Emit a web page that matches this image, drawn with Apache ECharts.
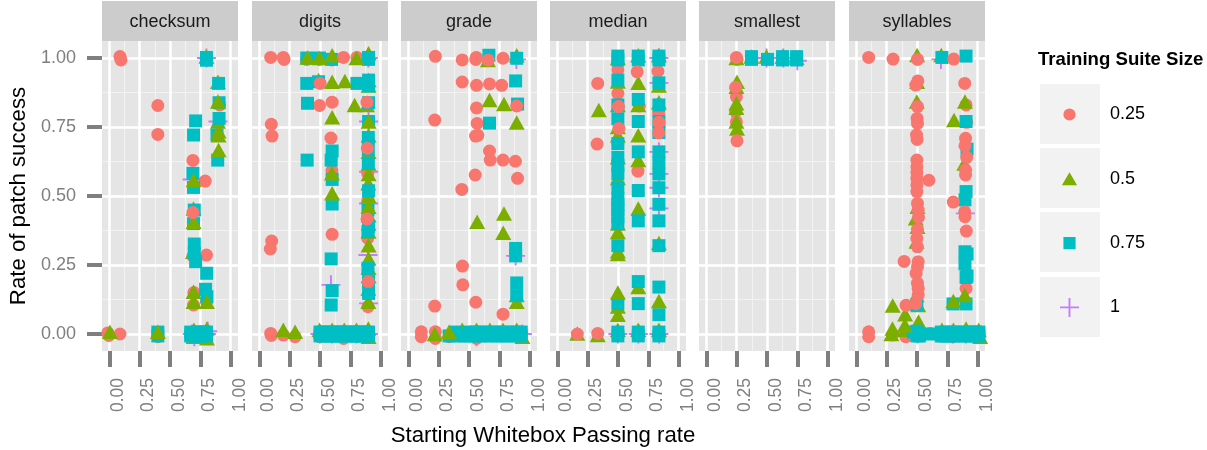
<!DOCTYPE html>
<html><head><meta charset="utf-8">
<style>html,body{margin:0;padding:0;background:#fff}#c{width:1207px;height:450px}</style>
<script src="https://cdn.jsdelivr.net/npm/echarts@6/dist/echarts.min.js"></script>
</head><body><div id="c"></div>
<script>
const facetNames = ['checksum','digits','grade','median','smallest','syllables'];
const sizeLabels = ['0.25','0.5','0.75','1'];
const majorTicks = [0,0.25,0.5,0.75,1];
const minorTicks = [0.125,0.375,0.625,0.875];

// checksum
const checksum25 = [[.088,1.005],[.096,.993],[-.012,.004],[-.004,-.005],[.088,0],[.40,.828],[.40,.723],[.79,.554],[.689,.283],[.80,.286],[.697,.15],[.694,.105],[.80,.117],[.40,-.01],[.909,.83]];
const checksum50 = [[.005,.008],[.80,1.005],[.895,.914],[.895,.77],[.694,.455],[.689,.298],[.694,.153],[.697,.015],[.804,.02],[.804,-.015],[.694,-.01]];
const checksum75 = [[.80,1.002],[.80,.992],[.711,.772],[.694,.721],[.90,.908],[.904,.838],[.904,.781],[.887,.721],[.893,.63],[.689,.582],[.694,.531],[.70,.449],[.694,.40],[.70,.326],[.70,.292],[.711,.262],[.802,.22],[.793,.162],[.804,.135],[.40,.007],[.40,-.007],[.67,.007],[.69,-.007],[.72,.007],[.75,-.007],[.78,.007],[.80,-.007],[.67,-.007],[.72,-.007],[.75,.007],[.80,.007]];
const checksum100 = [[.80,1],[.895,.77],[.683,.56],[.683,0],[.80,0],[.70,-.01],[.81,.01]];
const checksum50Top = [[.895,.842],[.90,.72],[.90,.735],[.90,.667],[.694,.558],[.694,.407],[.694,.117],[.804,.117],[.40,.008]];
const checksum25Top = [[.689,.44],[.689,.629]];
// digits
const digits25 = [[.094,1.002],[.198,1.002],[.204,.995],[.39,.995],[.496,.995],[.598,.993],[.804,1.002],[.496,.828],[.60,.84],[.099,.76],[.105,.717],[.59,.71],[.598,.592],[.893,.582],[.895,.485],[.60,.361],[.893,.347],[.102,.337],[.091,.308],[.895,.099],[.094,.002],[.099,-.005],[.198,-.004],[.496,-.01],[.694,-.016],[.295,-.01]];
const digits50 = [[.90,1.017],[.488,.92],[.90,.92],[.90,.90],[.785,.83],[.887,.83],[.90,.72],[.90,.66],[.90,.618],[.90,.58],[.898,.546],[.90,.50],[.90,.43],[.90,.40],[.90,.371],[.90,.322],[.90,.274],[.90,.24],[.90,.21],[.898,.165],[.898,.117],[.198,.015],[.496,.015],[.60,.015],[.70,.015],[.80,.015],[.898,.02],[.90,-.01]];
const digits75 = [[.391,1],[.496,1],[.595,.995],[.90,.995],[.90,1.002],[.391,.908],[.488,.914],[.804,.908],[.90,.92],[.90,.899],[.397,.836],[.90,.838],[.90,.77],[.898,.712],[.898,.667],[.898,.618],[.394,.63],[.60,.663],[.592,.63],[.60,.56],[.60,.471],[.90,.519],[.895,.449],[.90,.389],[.895,.371],[.592,.272],[.895,.238],[.60,.157],[.592,.105],[.90,.19],[.90,.147],[.50,.007],[.53,-.007],[.56,.007],[.60,-.007],[.63,.007],[.66,-.007],[.70,.007],[.73,-.007],[.77,.007],[.80,-.007],[.83,.007],[.87,-.007],[.90,.007],[.50,-.007],[.56,-.007],[.63,-.007],[.70,-.007],[.77,-.007],[.83,-.007],[.90,-.007],[.53,.007],[.60,.007],[.66,.007],[.73,.007],[.80,.007],[.87,.007]];
const digits100 = [[.898,1],[.90,.77],[.59,.178],[.90,.588],[.90,.473],[.895,.286],[.90,.111],[.90,0],[.50,0],[.60,0],[.80,0]];
const digits50Top = [[.397,1.002],[.496,1],[.60,1.01],[.80,1],[.60,.914],[.705,.917],[.60,.785],[.90,.77],[.60,.51],[.598,.582],[.90,.461],[.295,.008]];
const digits25Top = [[.887,.84],[.89,.673],[.887,.417],[.898,.19],[.501,.908],[.694,1.002]];
// grade
const grade25 = [[.223,1.006],[.444,.993],[.556,.995],[.56,1.002],[.78,.999],[.444,.913],[.562,.901],[.669,.906],[.769,.901],[.562,.819],[.218,.775],[.567,.763],[.554,.717],[.573,.72],[.669,.663],[.675,.63],[.78,.63],[.882,.626],[.551,.576],[.90,.564],[.441,.524],[.446,.246],[.449,.178],[.218,.101],[.556,.115],[.78,.072],[.107,.008],[.107,-.01],[.223,.008],[.223,-.016],[.444,.002],[.562,-.016],[.336,-.01]];
const grade50 = [[.669,.848],[.788,.833],[.656,.993],[.567,.407],[.788,.437],[.782,.367],[.893,1.01],[.893,.117],[.893,.141],[.444,.015],[.562,.015],[.672,.015],[.78,.015],[.893,.015],[.94,-.01]];
const grade75 = [[.664,1.01],[.893,.999],[.884,.917],[.90,.833],[.669,.764],[.884,.31],[.884,.283],[.893,.185],[.893,.139],[.336,-.007],[.39,.007],[.457,-.007],[.50,.007],[.554,-.007],[.60,.007],[.664,-.007],[.72,.007],[.774,-.007],[.82,.007],[.884,-.007],[.93,.007],[.39,-.007],[.50,-.007],[.60,-.007],[.72,-.007],[.82,-.007],[.93,-.007],[.554,.007],[.664,.007],[.774,.007],[.884,.007]];
const grade100 = [[.89,.995],[.884,.283],[.562,-.01],[.89,0],[.94,0]];
const grade50Top = [[.218,0],[.336,.008],[.893,.766]];
const grade25Top = [[.893,.826],[.658,.993]];
// median
const median25 = [[.328,.688],[.499,.957],[.829,.952],[.499,.872],[.499,.691],[.664,.59],[.675,.826],[.835,.80]];
const median50 = [[.342,.812],[.165,.002],[.333,-.004],[.499,1],[.499,.915],[.499,.83],[.499,.75],[.499,.72],[.499,.64],[.499,.565],[.499,.40],[.499,.37],[.499,.30],[.499,.29],[.499,.10],[.499,.07],[.499,.015],[.667,1.01],[.667,.83],[.667,.63],[.667,.455],[.667,.17],[.667,.015],[.837,1.01],[.837,.90],[.837,.84],[.837,.33],[.837,.015]];
const median75 = [[.499,1.007],[.499,.993],[.499,.92],[.499,.83],[.499,.78],[.499,.69],[.499,.64],[.499,.61],[.499,.58],[.499,.53],[.499,.49],[.499,.47],[.499,.45],[.499,.425],[.499,.40],[.499,.32],[.499,.11],[.499,.007],[.499,-.007],[.667,1.007],[.667,.993],[.667,.85],[.667,.77],[.667,.66],[.667,.52],[.667,.41],[.667,.19],[.667,.11],[.667,.007],[.667,-.007],[.837,1.007],[.837,.993],[.837,.91],[.837,.83],[.837,.77],[.837,.73],[.837,.66],[.837,.62],[.837,.58],[.837,.53],[.837,.47],[.837,.41],[.837,.32],[.837,.17],[.837,.07],[.837,.007],[.837,-.007]];
const median100 = [[.837,1],[.837,.91],[.837,.66],[.837,.58],[.837,.53],[.837,.455],[.837,0],[.499,0],[.667,0]];
const median50Top = [[.499,.15],[.667,.91],[.837,.12],[.667,.72]];
const median25Top = [[.333,.908],[.504,.824],[.507,.745],[.837,.767],[.835,.729],[.333,.002],[.165,0],[.658,.95]];
// smallest
const smallest25 = [[.253,.995],[.248,.86],[.242,.806],[.248,.769]];
const smallest50 = [[.248,1],[.253,.914],[.248,.896],[.248,.82],[.372,1.005],[.496,1.005],[.628,1.005],[.744,1]];
const smallest75 = [[.372,1.005],[.372,.995],[.504,.995],[.628,1.005],[.628,.993],[.744,1.005],[.744,.993]];
const smallest100 = [[.496,1],[.634,1],[.75,.99]];
const smallest50Top = [[.248,.836],[.248,.77],[.253,.745]];
const smallest25Top = [[.248,1.002],[.242,.894],[.253,.70]];
// syllables
const syllables25 = [[.102,.008],[.102,-.01],[.298,-.004],[.408,-.01],[.609,.002],[.796,-.01],[.904,.165],[.904,.83],[.909,.767]];
const syllables50 = [[.501,1.011],[.70,1.011],[.501,.914],[.499,.842],[.805,.775],[.89,.618],[.504,.461],[.49,.419],[.504,.389],[.496,.335],[.496,.141],[.51,.105],[.30,.103],[.402,.072],[.512,.045],[.289,0],[.40,.015],[.705,.015],[.80,.015],[.904,.02],[1.008,.015],[1.02,-.01]];
const syllables75 = [[.705,1.002],[.904,1.007],[.904,.77],[.912,.67],[.904,.516],[.895,.486],[.895,.298],[.912,.29],[.895,.254],[.904,.205],[.912,.21],[.499,.105],[.796,.109],[.904,.109],[.47,.007],[.50,-.007],[.50,.01],[.52,-.007],[.60,0],[.70,.007],[.72,-.007],[.75,.007],[.80,-.007],[.85,.007],[.90,-.007],[.94,.007],[.98,-.007],[1.01,.007],[.70,-.007],[.75,-.007],[.80,.007],[.85,-.007],[.90,.007],[.94,-.007],[.98,.007],[1.01,-.007]];
const syllables100 = [[.697,.995],[.898,.437],[.504,0],[.793,0],[.904,0]];
const syllables50Top = [[.895,.842],[.298,.02],[.40,.033],[.893,.141],[.799,.12]];
const syllables25Top = [[.102,1.002],[.303,.996],[.504,.995],[.802,.996],[.507,.917],[.49,.902],[.893,.908],[.504,.824],[.501,.781],[.504,.763],[.496,.721],[.501,.705],[.90,.709],[.895,.682],[.909,.64],[.499,.63],[.499,.606],[.499,.585],[.499,.564],[.499,.54],[.499,.516],[.598,.557],[.90,.594],[.90,.576],[.504,.473],[.51,.449],[.512,.423],[.504,.379],[.499,.347],[.504,.316],[.51,.262],[.504,.244],[.493,.22],[.504,.184],[.51,.165],[.51,.141],[.394,.263],[.799,.478],[.893,.443],[.895,.425],[.906,.373],[.41,.104],[.49,.11]];

const pinkByFacet = [checksum25,digits25,grade25,median25,smallest25,syllables25];
const greenByFacet = [checksum50,digits50,grade50,median50,smallest50,syllables50];
const tealByFacet = [checksum75,digits75,grade75,median75,smallest75,syllables75];
const plusByFacet = [checksum100,digits100,grade100,median100,smallest100,syllables100];
const greenTopByFacet = [checksum50Top,digits50Top,grade50Top,median50Top,smallest50Top,syllables50Top];
const pinkTopByFacet = [checksum25Top,digits25Top,grade25Top,median25Top,smallest25Top,syllables25Top];

const panelLefts = [102,252,401,550,699,849];
const panelW = 136, panelTop = 41, panelH = 310;
const colors = {pink:'#F8766D',green:'#7CAE00',teal:'#00BFC4',plus:'#C77CFF'};
const plusPath = 'path://M45 0H55V45H100V55H55V100H45V55H0V45H45Z';
const gray = '#7F7F7F';
const xMin=-0.06,xMax=1.06,yMin=-0.0616,yMax=1.0616;
const box='M0 0L0 0M100 100L100 100';
const legendIcons=[
  'path://'+box+'M50 18A32 32 0 1 1 50 82A32 32 0 1 1 50 18Z',
  'path://'+box+'M50 16L90 84L10 84Z',
  'path://'+box+'M18 18H82V82H18Z',
  plusPath
];

const grid=[],xAxis=[],yAxis=[],series=[],graphic=[];
facetNames.forEach((nm,i)=>{
  grid.push({left:panelLefts[i],top:panelTop,width:panelW,height:panelH,show:true,backgroundColor:'#E5E5E5',borderWidth:0,outerBoundsMode:'none'});
  xAxis.push({type:'value',gridIndex:i,min:xMin,max:xMax,position:'bottom',
    axisLine:{show:false,onZero:false},
    axisTick:{show:true,length:16,lineStyle:{color:gray,width:4},customValues:majorTicks},
    axisLabel:{show:true,customValues:majorTicks,rotate:90,color:gray,fontSize:17.5,fontFamily:'Liberation Sans',margin:27,align:'right',verticalAlign:'top',hideOverlap:false,formatter:v=>v.toFixed(2)},
    splitLine:{show:true,lineStyle:{color:'#fff',width:2.5}},z:3});
  yAxis.push({type:'value',gridIndex:i,min:yMin,max:yMax,position:'left',
    axisLine:{show:false,onZero:false},
    axisTick:{show:i===0,length:15,lineStyle:{color:gray,width:4},customValues:majorTicks},
    axisLabel:{show:i===0,customValues:majorTicks,color:gray,fontSize:18,fontFamily:'Liberation Sans',margin:26,hideOverlap:false,formatter:v=>v.toFixed(2)},
    splitLine:{show:true,lineStyle:{color:'#fff',width:2.5}},
    name:i===0?'Rate of patch success':'',nameLocation:'middle',nameGap:72,nameRotate:90,nameMoveOverlap:false,
    nameTextStyle:{color:'#000',fontSize:22.2,fontFamily:'Liberation Sans'},z:3});
});
facetNames.forEach((nm,i)=>{
  xAxis.push({type:'value',gridIndex:i,min:xMin,max:xMax,position:'top',
    axisLine:{show:false,onZero:false},
    axisTick:{show:false,customValues:minorTicks},axisLabel:{show:false,customValues:minorTicks},
    splitLine:{show:true,lineStyle:{color:'#F2F2F2',width:1.2}},z:2});
  yAxis.push({type:'value',gridIndex:i,min:yMin,max:yMax,position:'right',
    axisLine:{show:false,onZero:false},
    axisTick:{show:false,customValues:minorTicks},axisLabel:{show:false,customValues:minorTicks},
    splitLine:{show:true,lineStyle:{color:'#F2F2F2',width:1.2}},z:2});
  const layers=[
    [sizeLabels[3],plusByFacet[i],plusPath,19,colors.plus,10],
    [sizeLabels[0],pinkByFacet[i],'circle',13,colors.pink,11],
    [sizeLabels[1],greenByFacet[i],'triangle',[16,14.5],colors.green,12],
    [sizeLabels[2],tealByFacet[i],'rect',13,colors.teal,13],
    [sizeLabels[1],greenTopByFacet[i],'triangle',[16,14.5],colors.green,14],
    [sizeLabels[0],pinkTopByFacet[i],'circle',13,colors.pink,15]
  ];
  layers.forEach(l=>series.push({type:'scatter',name:l[0],data:l[1],symbol:l[2],symbolSize:l[3],
    itemStyle:{color:l[4],opacity:1},xAxisIndex:i,yAxisIndex:i,z:l[5],silent:true,animation:false,clip:true}));
  graphic.push({type:'rect',shape:{x:panelLefts[i],y:1,width:panelW,height:40},style:{fill:'#CCCCCC'},silent:true});
  graphic.push({type:'text',x:panelLefts[i]+panelW/2,y:22,style:{text:nm,fill:'#1A1A1A',font:'18px "Liberation Sans"',textAlign:'center',textVerticalAlign:'middle'},silent:true});
});
[84,148,212,277].forEach(y=>graphic.push({type:'rect',z:-1,shape:{x:1040,y:y,width:60,height:60},style:{fill:'#F2F2F2'},silent:true}));
graphic.push({type:'text',x:1038,y:60,style:{text:'Training Suite Size',fill:'#000',font:'bold 18.6px "Liberation Sans"',textAlign:'left',textVerticalAlign:'middle'},silent:true});
graphic.push({type:'text',x:543,y:436,style:{text:'Starting Whitebox Passing rate',fill:'#000',font:'22.2px "Liberation Sans"',textAlign:'center',textVerticalAlign:'middle'},silent:true});

const chart=echarts.init(document.getElementById('c'),null,{renderer:'canvas'});
chart.setOption({
  animation:false,backgroundColor:'#fff',
  grid,xAxis,yAxis,series,graphic,
  legend:{show:true,orient:'vertical',left:1055,top:100,itemWidth:19,itemHeight:19,itemGap:45.3,
    selectedMode:false,data:sizeLabels.map((n,k)=>({name:n,icon:legendIcons[k]})),
    textStyle:{color:'#000',fontSize:18,fontFamily:'Liberation Sans',lineHeight:19,padding:[0,0,0,26]}},
  tooltip:{show:false}
});
</script></body></html>
